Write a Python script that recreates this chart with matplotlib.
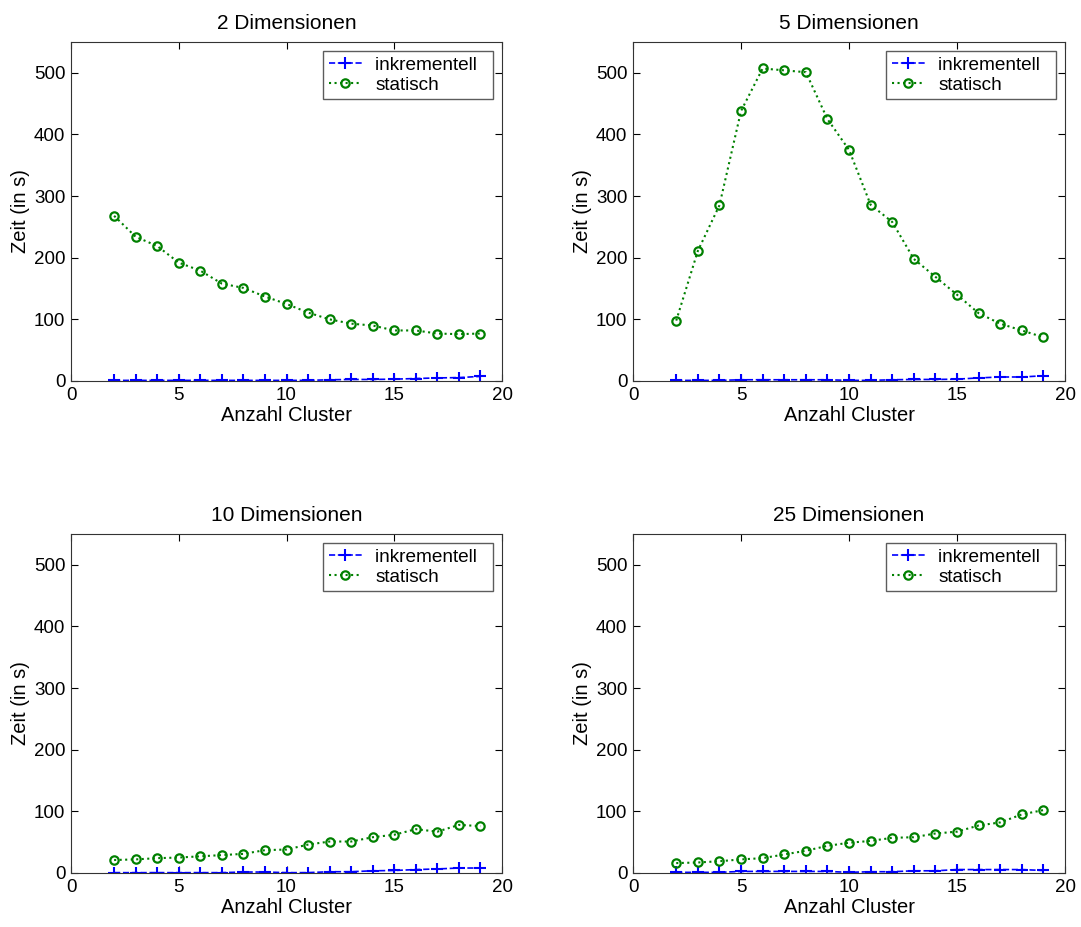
import matplotlib
matplotlib.use("Agg")
import matplotlib.pyplot as plt

plt.rcParams['font.family'] = ['Liberation Sans', 'DejaVu Sans']

cluster = list(range(2, 20))

titles = ["2 Dimensionen", "5 Dimensionen", "10 Dimensionen", "25 Dimensionen"]

# incremental run times (s)
inkr_2d = [1, 1, 1, 1, 1, 1, 1, 1, 1, 1, 2, 2.5, 2.5, 3, 4, 5, 5.5, 7.5]
inkr_5d = [1, 1, 1, 2, 2, 2, 2, 2, 1, 1, 2, 2.5, 2.5, 3, 5, 6.5, 6.5, 8.5]
inkr_10d = [0.5, 0.5, 0.5, 0.5, 0.5, 0.5, 1.5, 1.5, 0.5, 0.5, 2, 2, 3.5, 4, 5.5, 6.5, 8, 8]
inkr_25d = [1, 1, 1, 2.5, 2.5, 2.5, 2.5, 2.5, 1, 2, 2, 3.5, 3.5, 5.5, 5.5, 5.5, 5.5, 4]

# static run times (s)
stat_2d = [268, 234, 219, 192, 179, 158, 151, 137, 125, 111, 100, 93, 90, 82, 82, 77, 76, 77]
stat_5d = [98, 211, 285, 438, 507, 504, 501, 425, 375, 286, 258, 198, 169, 140, 110, 93, 82, 71]
stat_10d = [21, 22, 24, 25, 27, 29, 31, 37, 38, 46, 51, 51, 58, 62, 71, 67, 78, 76]
stat_25d = [16, 17, 19, 22, 24, 30, 36, 44, 49, 52, 57, 58, 64, 67, 77, 82, 95, 102]

inkr = [inkr_2d, inkr_5d, inkr_10d, inkr_25d]
stat = [stat_2d, stat_5d, stat_10d, stat_25d]

fig = plt.figure(figsize=(10.81, 9.27), dpi=100)

# axes rectangles [left, bottom, width, height]
rects = [
    [0.0657, 0.589, 0.3987, 0.3657],
    [0.5856, 0.589, 0.3996, 0.3657],
    [0.0657, 0.0583, 0.3987, 0.3657],
    [0.5856, 0.0583, 0.3996, 0.3657],
]

for i in range(4):
    ax = fig.add_axes(rects[i])
    ax.plot(cluster, inkr[i], color='#0000ff', linestyle='--', marker='+',
            markersize=8, markeredgewidth=1.5, linewidth=1.2,
            label='inkrementell  ')
    ax.plot(cluster, stat[i], color='#008000', linestyle=':', marker='o',
            markersize=6, markerfacecolor='none', markeredgewidth=1.6,
            linewidth=1.5, label='statisch')
    ax.set_xlim(0, 20)
    ax.set_ylim(0, 550)
    ax.set_xticks([0, 5, 10, 15, 20])
    ax.set_yticks([0, 100, 200, 300, 400, 500])
    ax.tick_params(direction='in', top=True, right=True, labelsize=13.5, length=5, pad=4)
    for s in ax.spines.values():
        s.set_color('#333333')
    ax.set_title(titles[i], fontsize=15, pad=9)
    ax.set_xlabel("Anzahl Cluster", fontsize=14.5, labelpad=2)
    ax.set_ylabel("Zeit (in s)", fontsize=14.5, labelpad=3)
    leg = ax.legend(loc='upper right', fontsize=13.7, fancybox=False,
                    borderaxespad=0.45, handlelength=1.75, handletextpad=0.7,
                    labelspacing=0.15, borderpad=0.3)
    leg.get_frame().set_edgecolor('#333333')
    leg.get_frame().set_linewidth(1.0)

fig.savefig("out.png", dpi=100)
